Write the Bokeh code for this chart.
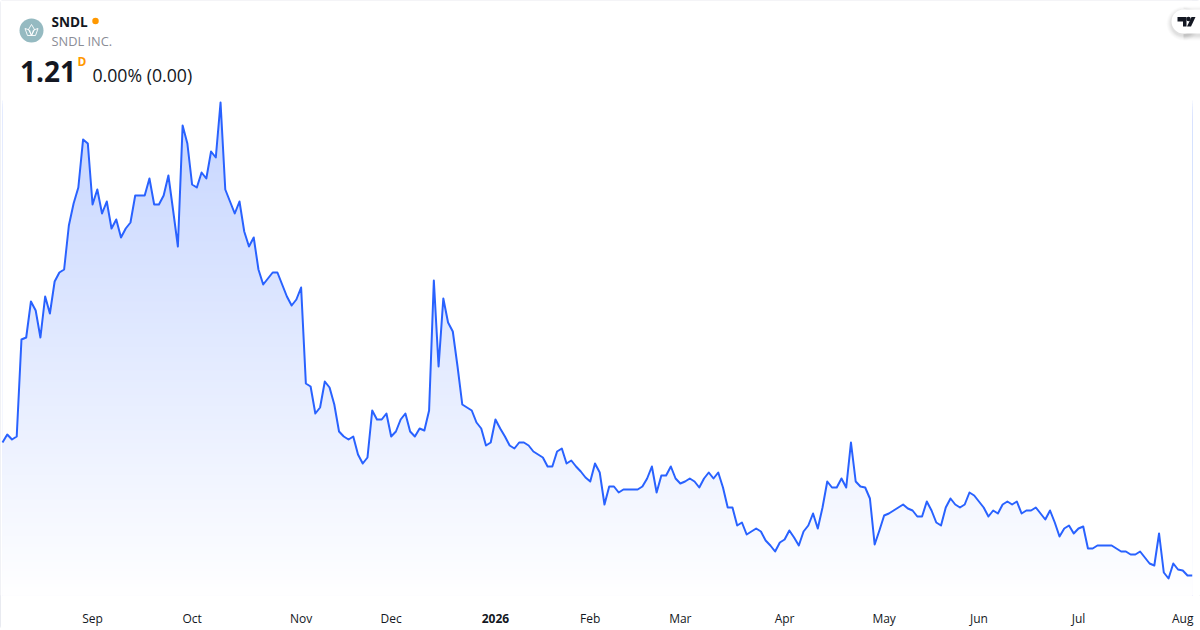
from bokeh.plotting import figure
from bokeh.models import FixedTicker, LinearAxis, Range1d, Label
from bokeh.embed import file_html
from bokeh.resources import INLINE

# Daily closing prices (no printed price scale)
prices = [
 1.742,1.774,1.754,1.766,2.154,2.162,2.306,2.27,2.162,2.326,
 2.258,2.386,2.422,2.434,2.61,2.698,2.762,2.954,2.938,2.694,
 2.754,2.658,2.706,2.598,2.634,2.562,2.598,2.622,2.73,2.73,
 2.73,2.798,2.694,2.694,2.73,2.81,2.67,2.526,3.01,2.938,
 2.774,2.762,2.822,2.798,2.906,2.882,3.102,2.754,2.706,2.658,
 2.706,2.586,2.526,2.562,2.434,2.374,2.398,2.422,2.422,2.374,
 2.326,2.29,2.314,2.362,1.978,1.966,1.858,1.882,1.986,1.962,
 1.894,1.786,1.766,1.754,1.766,1.694,1.658,1.682,1.87,1.834,
 1.834,1.858,1.766,1.786,1.834,1.858,1.786,1.766,1.798,1.79,
 1.87,2.39,2.046,2.318,2.222,2.186,2.046,1.894,1.882,1.87,
 1.822,1.798,1.73,1.742,1.834,1.798,1.766,1.73,1.718,1.742,
 1.742,1.73,1.706,1.694,1.682,1.646,1.646,1.706,1.718,1.658,
 1.67,1.646,1.626,1.602,1.586,1.658,1.622,1.494,1.566,1.566,
 1.542,1.554,1.554,1.554,1.554,1.566,1.598,1.646,1.542,1.61,
 1.61,1.646,1.598,1.578,1.586,1.598,1.586,1.562,1.598,1.622,
 1.598,1.622,1.562,1.482,1.482,1.41,1.422,1.374,1.386,1.398,
 1.386,1.35,1.33,1.306,1.342,1.354,1.39,1.362,1.33,1.386,
 1.41,1.458,1.398,1.482,1.586,1.562,1.562,1.598,1.562,1.742,
 1.586,1.566,1.562,1.518,1.334,1.39,1.45,1.458,1.47,1.482,
 1.494,1.478,1.47,1.446,1.446,1.506,1.47,1.422,1.41,1.482,
 1.518,1.494,1.482,1.494,1.542,1.53,1.506,1.482,1.446,1.47,
 1.458,1.494,1.506,1.494,1.506,1.458,1.47,1.47,1.482,1.458,
 1.434,1.47,1.422,1.366,1.398,1.41,1.378,1.398,1.406,1.318,
 1.318,1.33,1.33,1.33,1.33,1.318,1.306,1.306,1.294,1.294,
 1.306,1.282,1.258,1.25,1.378,1.222,1.198,1.258,1.234,1.23,
 1.21,1.21]
tick_positions = [19, 40, 63, 82, 104, 124, 143, 165, 186, 206, 227, 249]
tick_labels = ["Sep","Oct","Nov","Dec","","Feb","Mar","Apr","May","Jun","Jul","Aug"]
bold_tick_position, bold_tick_label = 104, "2026"

W, H = 1200, 629
BOTTOM = 595                 # lower edge of the plot frame, px
PX_X, X0 = 4.74, 2.0
PX_Y = 0.004                 # price per pixel
Y_REF_PX, Y_REF = 575.0, 1.21

def sx(px): return (px - X0) / PX_X
def sy(py): return Y_REF + (Y_REF_PX - py) * PX_Y

days = list(range(len(prices)))
x_start, x_end = sx(0), sx(W)
y_bottom, y_top = sy(BOTTOM), sy(0)

p = figure(width=W, height=H, output_backend="svg", toolbar_location=None,
           x_range=Range1d(x_start, x_end), y_range=Range1d(y_bottom, y_top),
           x_axis_type=None, y_axis_type=None,
           min_border_left=0, min_border_right=0, min_border_top=0, min_border_bottom=H-BOTTOM,
           outline_line_color=None, background_fill_color="white", border_fill_color="white",
           styles={"outline": "1px solid #e0e3eb", "outline-offset": "-1px", "border-radius": "3px"})
p.xgrid.visible = False
p.ygrid.visible = False

# Vertical fade under the line: nested opaque bands, then a white mask above the series
TOP_PX, FADE_BOTTOM_PX, A0 = 100, 598, 0.27
for py in range(TOP_PX, BOTTOM, 3):
    a = A0 * (FADE_BOTTOM_PX - py) / (FADE_BOTTOM_PX - TOP_PX)
    col = "#%02x%02x%02x" % (round(255 - 214*a), round(255 - 157*a), 255)
    p.quad(left=days[0], right=days[-1], bottom=y_bottom, top=sy(py), fill_color=col, line_color=None)
p.varea(x=days, y1=prices, y2=[y_top]*len(days), fill_color="white")
p.line(days, prices, line_color="#2962ff", line_width=2, line_join="round")

def make_axis(ticks, labels, style, standoff):
    return LinearAxis(ticker=FixedTicker(ticks=ticks),
                      major_label_overrides={t: l for t, l in zip(ticks, labels)},
                      major_tick_line_color=None, axis_line_color=None, minor_tick_line_color=None,
                      major_label_text_font="Open Sans", major_label_text_font_size="12px",
                      major_label_text_font_style=style,
                      major_label_text_color="#131722", major_label_standoff=standoff)

p.add_layout(make_axis(tick_positions, tick_labels, "normal", 8), "below")
# the year label is bold: a second axis, pulled back up into the row of the first
p.add_layout(make_axis([bold_tick_position], [bold_tick_label], "bold", -22), "below")

def txt(px, py, s, size, color, style="normal", align="left"):
    p.add_layout(Label(x=sx(px), y=sy(py), text=s, text_font="Open Sans", text_font_size=size,
                       text_color=color, text_font_style=style, text_align=align,
                       text_baseline="middle"))

# Header
p.scatter([sx(31)], [sy(30)], size=24, fill_color="#95bac1", line_color=None)
p.patch([sx(v) for v in (31, 34, 31, 28)], [sy(v) for v in (24, 29, 35, 29)], fill_color=None, line_color="white", line_width=0.9)
p.patch([sx(v) for v in (24.5, 29, 31, 27)], [sy(v) for v in (28, 29.5, 35, 35)], fill_color=None, line_color="white", line_width=0.9)
p.patch([sx(v) for v in (37.5, 33, 31, 35)], [sy(v) for v in (28, 29.5, 35, 35)], fill_color=None, line_color="white", line_width=0.9)
txt(51, 21, "SNDL", "13.6px", "#131722", "bold")
p.scatter([sx(95)], [sy(20.5)], size=6.5, fill_color="#ff9800", line_color=None)
txt(51, 40, "SNDL INC.", "12.8px", "#8a8d96")
txt(19.5, 71, "1.21", "28px", "#131722", "bold")
txt(77, 61, "D", "12px", "#ff9800", "bold")
txt(92, 74, "0.00% (0.00)", "17.7px", "#131722")

# Logo tab
for grow, alpha in ((5,0.015),(4,0.02),(3,0.025),(2,0.03),(1,0.03)):
    p.scatter([sx(1183)], [sy(23)], size=24+2*grow, fill_color="black", fill_alpha=alpha, line_color=None)
    p.quad(left=[sx(1183)], right=[sx(1200)], bottom=[sy(35+grow)], top=[sy(11-grow)], fill_color="black", fill_alpha=alpha, line_color=None)
p.scatter([sx(1183)], [sy(21)], size=24, fill_color="white", line_color=None)
p.quad(left=[sx(1183)], right=[sx(1200)], bottom=[sy(33)], top=[sy(9)], fill_color="white", line_color=None)
p.patch([sx(v) for v in (1177, 1186, 1186, 1182.5, 1182.5, 1177)],
        [sy(v) for v in (16.5, 16.5, 26, 26, 21, 21)], fill_color="#131722", line_color=None)
p.patch([sx(v) for v in (1191, 1195, 1190.5, 1186.5)],
        [sy(v) for v in (16.5, 16.5, 26, 26)], fill_color="#131722", line_color=None)
p.scatter([sx(1188)], [sy(18.5)], size=4.5, fill_color="#131722", line_color=None)

open("out.html", "w").write(file_html(p, INLINE))
